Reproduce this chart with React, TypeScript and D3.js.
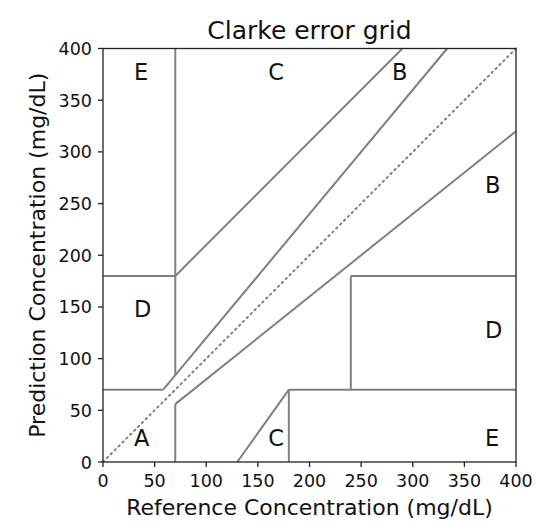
import React from "react";
import * as d3 from "d3";

const xTicks = [0, 50, 100, 150, 200, 250, 300, 350, 400];
const yTicks = [0, 50, 100, 150, 200, 250, 300, 350, 400];

// zone boundary segments: [x1, x2, y1, y2]
const zoneLines: [number, number, number, number][] = [
  [0, 175 / 3, 70, 70],
  [175 / 3, 400 / 1.2, 70, 400],
  [70, 70, 84, 400],
  [0, 70, 180, 180],
  [70, 290, 180, 400],
  [70, 70, 0, 56],
  [70, 400, 56, 320],
  [180, 180, 0, 70],
  [180, 400, 70, 70],
  [240, 240, 70, 180],
  [240, 400, 180, 180],
  [130, 180, 0, 70],
];

const zoneLabels: { label: string; x: number; y: number }[] = [
  { label: "A", x: 30, y: 15 },
  { label: "B", x: 370, y: 260 },
  { label: "B", x: 280, y: 370 },
  { label: "C", x: 160, y: 370 },
  { label: "C", x: 160, y: 15 },
  { label: "D", x: 30, y: 140 },
  { label: "D", x: 370, y: 120 },
  { label: "E", x: 30, y: 370 },
  { label: "E", x: 370, y: 15 },
];

const diagonal = [0, 400];

export default function App() {
  const W = 550, H = 531;
  const left = 103, right = 516, top = 48.5, bottom = 462;
  const x = d3.scaleLinear().domain([0, 400]).range([left, right]);
  const y = d3.scaleLinear().domain([0, 400]).range([bottom, top]);
  const font = "DejaVu Sans";
  const grey = "#808080";
  return (
    <svg width={W} height={H} style={{ position: "absolute", left: 0, top: 0 }} fontFamily={font}>
      <rect width={W} height={H} fill="white" />
      <line x1={x(diagonal[0])} y1={y(diagonal[0])} x2={x(diagonal[1])} y2={y(diagonal[1])}
        stroke={grey} strokeWidth={2} strokeDasharray="1.5 4" strokeLinecap="round" />
      {zoneLines.map((s, i) => (
        <line key={i} x1={x(s[0])} x2={x(s[1])} y1={y(s[2])} y2={y(s[3])} stroke={grey} strokeWidth={2} />
      ))}
      {zoneLabels.map((d, i) => (
        <text key={i} x={x(d.x)} y={y(d.y)} fontSize={22.5} fill="#111">{d.label}</text>
      ))}
      <rect x={left} y={top} width={right - left} height={bottom - top} fill="none" stroke="#222" strokeWidth={1.3} />
      {xTicks.map((t) => (
        <g key={"x" + t}>
          <line x1={x(t)} x2={x(t)} y1={bottom} y2={bottom + 5} stroke="#222" strokeWidth={1.3} />
          <text x={x(t)} y={bottom + 25} fontSize={17.5} textAnchor="middle" fill="#111">{t}</text>
        </g>
      ))}
      {yTicks.map((t) => (
        <g key={"y" + t}>
          <line x1={left - 5} x2={left} y1={y(t)} y2={y(t)} stroke="#222" strokeWidth={1.3} />
          <text x={left - 11} y={y(t) + 6.5} fontSize={17.5} textAnchor="end" fill="#111">{t}</text>
        </g>
      ))}
      <text x={(left + right) / 2} y={39} fontSize={25} textAnchor="middle" fill="#111">Clarke error grid</text>
      <text x={(left + right) / 2} y={515} fontSize={22} textAnchor="middle" fill="#111">Reference Concentration (mg/dL)</text>
      <text transform={`translate(45,${(top + bottom) / 2}) rotate(-90)`} fontSize={22} textAnchor="middle" fill="#111">Prediction Concentration (mg/dL)</text>
    </svg>
  );
}
